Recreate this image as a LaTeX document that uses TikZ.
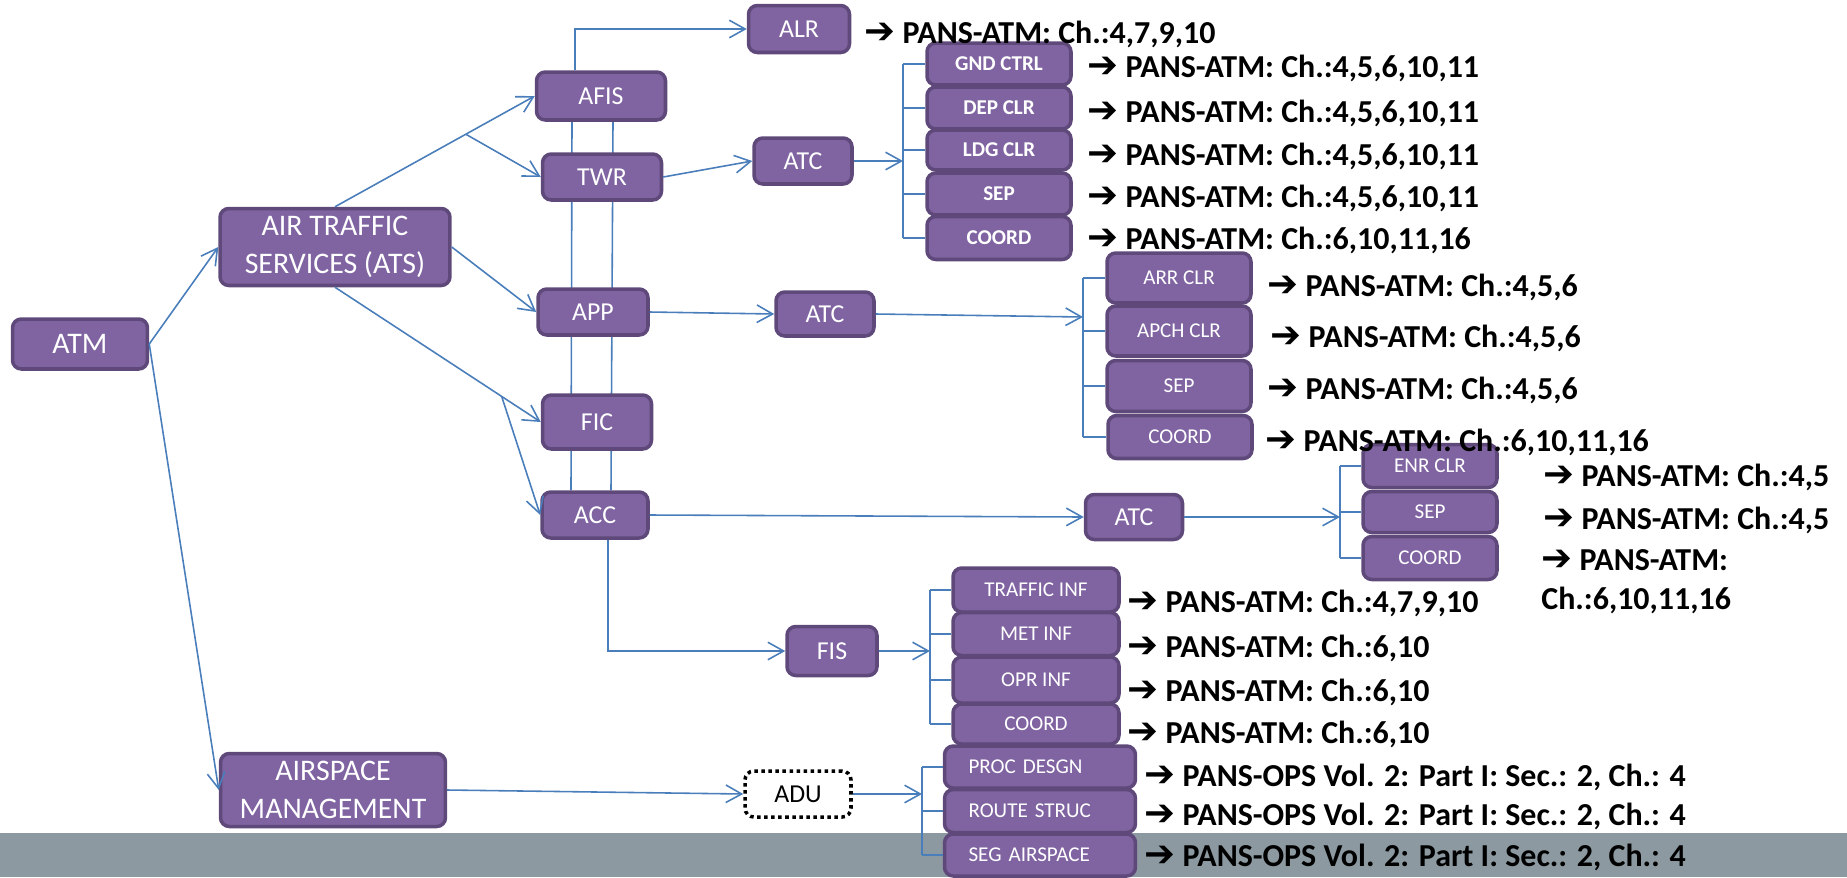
\documentclass[tikz,border=0pt]{standalone}
\usepackage{fontspec}
\setmainfont{Carlito}
\newfontfamily\arrowfont{DejaVu Sans}
\usetikzlibrary{arrows.meta,backgrounds,calc}

\definecolor{boxfill}{HTML}{8064A2}
\definecolor{boxline}{HTML}{5F497A}
\definecolor{linkblue}{HTML}{4A7EBB}
\definecolor{footgray}{HTML}{8C99A0}

\newcommand{\refarrow}{{\arrowfont\fontsize{21}{21}\selectfont ➔}}

\tikzset{
  box/.style={draw=boxline, fill=boxfill, line width=2pt, rounded corners=5pt,
    text=white, inner sep=0pt, align=center, font=\fontsize{14.7}{18}\selectfont},
  bigbox/.style={box, font=\fontsize{17}{21.5}\selectfont},
  subbox/.style={box, font=\fontsize{12}{14}\selectfont},
  adubox/.style={draw=black, fill=white, line width=2pt, dash pattern=on 2pt off 2pt,
    rounded corners=5pt, inner sep=0pt, font=\fontsize{14.7}{18}\selectfont},
  ref/.style={anchor=west, inner sep=0pt, align=left, font=\bfseries\fontsize{18.2}{22}\selectfont},
  link/.style={linkblue, line width=0.9pt},
  arr/.style={link, -{Straight Barb[length=9pt,width=10pt,line width=0.9pt]}},
}

\begin{document}
\begin{tikzpicture}[x=0.02cm, y=-0.02cm]
\useasboundingbox (0,0) rectangle (1847,877);

% Footer band
\fill[footgray] (0,833) rectangle (1847,877);

% Main boxes
\node[bigbox, minimum width=2.7cm, minimum height=1cm] (atm) at (80,344) {ATM};
\node[bigbox, minimum width=4.6cm, minimum height=1.54cm] (ats) at (335,247) {AIR TRAFFIC\\SERVICES (ATS)};
\node[bigbox, minimum width=4.5cm, minimum height=1.46cm] (asm) at (333,790) {AIRSPACE\\MANAGEMENT};

% Units
\node[box, minimum width=2.58cm, minimum height=0.96cm] (afis) at (601,96) {AFIS};
\node[box, minimum width=2.38cm, minimum height=0.92cm] (twr) at (602,177) {TWR};
\node[box, minimum width=2.2cm, minimum height=0.92cm] (app) at (593,312) {APP};
\node[box, minimum width=2.18cm, minimum height=1.08cm] (fic) at (597,422) {FIC};
\node[box, minimum width=2.12cm, minimum height=0.92cm] (acc) at (595,515) {ACC};

% Services
\node[box, minimum width=2.02cm, minimum height=0.94cm] (alr) at (799,29) {ALR};
\node[box, minimum width=1.96cm, minimum height=0.92cm] (atcT) at (803,161) {ATC};
\node[box, minimum width=1.96cm, minimum height=0.88cm] (atcA) at (825,314) {ATC};
\node[box, minimum width=1.94cm, minimum height=0.9cm] (atcC) at (1134,517) {ATC};
\node[box, minimum width=1.8cm, minimum height=0.98cm] (fis) at (832,651) {FIS};
\node[adubox, minimum width=2.12cm, minimum height=0.92cm] (adu) at (798,794) {ADU};

% Tasks of TWR
\node[subbox, font=\bfseries\fontsize{12}{14}\selectfont, minimum width=2.88cm, minimum height=0.84cm] (gnd) at (999,64) {GND CTRL};
\node[subbox, font=\bfseries\fontsize{12}{14}\selectfont, minimum width=2.88cm, minimum height=0.84cm] (dep) at (999,108) {DEP CLR};
\node[subbox, font=\bfseries\fontsize{12}{14}\selectfont, minimum width=2.88cm, minimum height=0.8cm] (ldg) at (999,150) {LDG CLR};
\node[subbox, font=\bfseries\fontsize{12}{14}\selectfont, minimum width=2.88cm, minimum height=0.84cm] (sepT) at (999,194) {SEP};
\node[subbox, font=\bfseries\fontsize{12}{14}\selectfont, minimum width=2.88cm, minimum height=0.86cm] (coordT) at (999,238) {COORD};

% Tasks of APP
\node[subbox, minimum width=2.88cm, minimum height=1cm] (arr) at (1179,278) {ARR CLR};
\node[subbox, minimum width=2.88cm, minimum height=1cm] (apch) at (1179,331) {APCH CLR};
\node[subbox, minimum width=2.88cm, minimum height=1.02cm] (sepA) at (1179,386) {SEP};
\node[subbox, minimum width=2.88cm, minimum height=0.86cm] (coordA) at (1180,437) {COORD};

% Tasks of ACC
\node[subbox, minimum width=2.68cm, minimum height=0.86cm] (enr) at (1430,466) {ENR CLR};
\node[subbox, minimum width=2.68cm, minimum height=0.82cm] (sepC) at (1430,512) {SEP};
\node[subbox, minimum width=2.68cm, minimum height=0.86cm] (coordC) at (1430,558) {COORD};

% Tasks of FIS
\node[subbox, minimum width=3.32cm, minimum height=0.88cm] (traf) at (1036,590) {TRAFFIC INF};
\node[subbox, minimum width=3.32cm, minimum height=0.86cm] (met) at (1036,634) {MET INF};
\node[subbox, minimum width=3.32cm, minimum height=0.92cm] (opr) at (1036,680) {OPR INF};
\node[subbox, minimum width=3.32cm, minimum height=0.8cm] (coordF) at (1036,724) {COORD};

% Tasks of ADU
\node[subbox, text width=2.86cm, inner xsep=0.48cm, align=left, minimum height=0.84cm] (proc) at (1040,767) {PROC DESGN};
\node[subbox, text width=2.86cm, inner xsep=0.48cm, align=left, minimum height=0.86cm] (route) at (1040,811) {ROUTE STRUC};
\node[subbox, text width=2.86cm, inner xsep=0.48cm, align=left, minimum height=0.84cm] (seg) at (1040,855) {SEG AIRSPACE};

% Links from ATM
\draw[arr] (atm.east) -- (ats.west);
\draw[arr] (atm.east) -- (asm.west);
\draw[arr] (asm.east) -- (adu.west);

% Links from ATS
\draw[arr] (ats.north) -- (afis.west);
\draw[arr] ($(ats.north)!0.655!(afis.west)$) -- (twr.west);
\draw[arr] (ats.east) -- (app.west);
\draw[arr] (ats.south) -- (fic.west);
\draw[arr] ($(ats.south)!0.81!(fic.west)$) -- (acc.west);
\begin{scope}[on background layer]
\draw[link] (572,0 |- afis.south) -- (571,0 |- acc.north);
\draw[link] (613,0 |- afis.south) -- (611,0 |- acc.north);
\end{scope}

% Links to services
\draw[arr] (575,0 |- afis.north) |- (alr.west);
\draw[arr] (twr.east) -- (atcT.west);
\draw[arr] (app.east) -- (atcA.west);
\draw[arr] (acc.east) -- (atcC.west);
\draw[arr] (608,0 |- acc.south) |- (fis.west);

% Brackets
\coordinate (bT) at (903,160);
\draw[arr] (atcT.east) -- (bT |- atcT.east);
\draw[link] (bT |- gnd.west) -- (bT |- coordT.west);
\foreach \n in {gnd,dep,ldg,sepT,coordT} \draw[link] (bT |- \n.west) -- (\n.west);

\coordinate (bA) at (1083,317);
\draw[arr] (atcA.east) -- (bA);
\draw[link] (bA |- arr.west) -- (bA |- coordA.west);
\foreach \n in {arr,apch,sepA,coordA} \draw[link] (bA |- \n.west) -- (\n.west);

\coordinate (bC) at (1340,512);
\draw[arr] (atcC.east) -- (bC |- atcC.east);
\draw[link] (bC |- enr.west) -- (bC |- coordC.west);
\foreach \n in {enr,sepC,coordC} \draw[link] (bC |- \n.west) -- (\n.west);

\coordinate (bF) at (930,650);
\draw[arr] (fis.east) -- (bF |- fis.east);
\draw[link] (bF |- traf.west) -- (bF |- coordF.west);
\foreach \n in {traf,met,opr,coordF} \draw[link] (bF |- \n.west) -- (\n.west);

\coordinate (bD) at (922,794);
\draw[arr] (adu.east) -- (bD |- adu.east);
\draw[link] (bD |- proc.west) -- (bD |- seg.west);
\foreach \n in {proc,route,seg} \draw[link] (bD |- \n.west) -- (\n.west);

% References
\node[ref] (rAlr) at (864,34) {\refarrow{} PANS-ATM: Ch.:4,7,9,10};
\node[ref] (rGnd) at (1087,68) {\refarrow{} PANS-ATM: Ch.:4,5,6,10,11};
\node[ref] (rDep) at (1087,113) {\refarrow{} PANS-ATM: Ch.:4,5,6,10,11};
\node[ref] (rLdg) at (1087,156) {\refarrow{} PANS-ATM: Ch.:4,5,6,10,11};
\node[ref] (rSepT) at (1087,198) {\refarrow{} PANS-ATM: Ch.:4,5,6,10,11};
\node[ref] (rCoordT) at (1087,240) {\refarrow{} PANS-ATM: Ch.:6,10,11,16};
\node[ref] (rArr) at (1267,287) {\refarrow{} PANS-ATM: Ch.:4,5,6};
\node[ref] (rApch) at (1270,338) {\refarrow{} PANS-ATM: Ch.:4,5,6};
\node[ref] (rSepA) at (1267,390) {\refarrow{} PANS-ATM: Ch.:4,5,6};
\node[ref] (rCoordA) at (1265,442) {\refarrow{} PANS-ATM: Ch.:6,10,11,16};
\node[ref] (rEnr) at (1543,477) {\refarrow{} PANS-ATM: Ch.:4,5};
\node[ref] (rSepC) at (1543,520) {\refarrow{} PANS-ATM: Ch.:4,5};
\node[ref, font=\bfseries\fontsize{18.2}{22.1}\selectfont] (rCoordC) at (1541,582) {\refarrow{} PANS-ATM:\\Ch.:6,10,11,16};
\node[ref] (rTraf) at (1127,603) {\refarrow{} PANS-ATM: Ch.:4,7,9,10};
\node[ref] (rMet) at (1127,648) {\refarrow{} PANS-ATM: Ch.:6,10};
\node[ref] (rOpr) at (1127,692) {\refarrow{} PANS-ATM: Ch.:6,10};
\node[ref] (rCoordF) at (1127,734) {\refarrow{} PANS-ATM: Ch.:6,10};
\node[ref] (rProc) at (1144,777) {\refarrow{} PANS-OPS Vol. 2: Part I: Sec.: 2, Ch.: 4};
\node[ref] (rRoute) at (1144,816) {\refarrow{} PANS-OPS Vol. 2: Part I: Sec.: 2, Ch.: 4};
\node[ref] (rSeg) at (1144,857) {\refarrow{} PANS-OPS Vol. 2: Part I: Sec.: 2, Ch.: 4};
\end{tikzpicture}
\end{document}
